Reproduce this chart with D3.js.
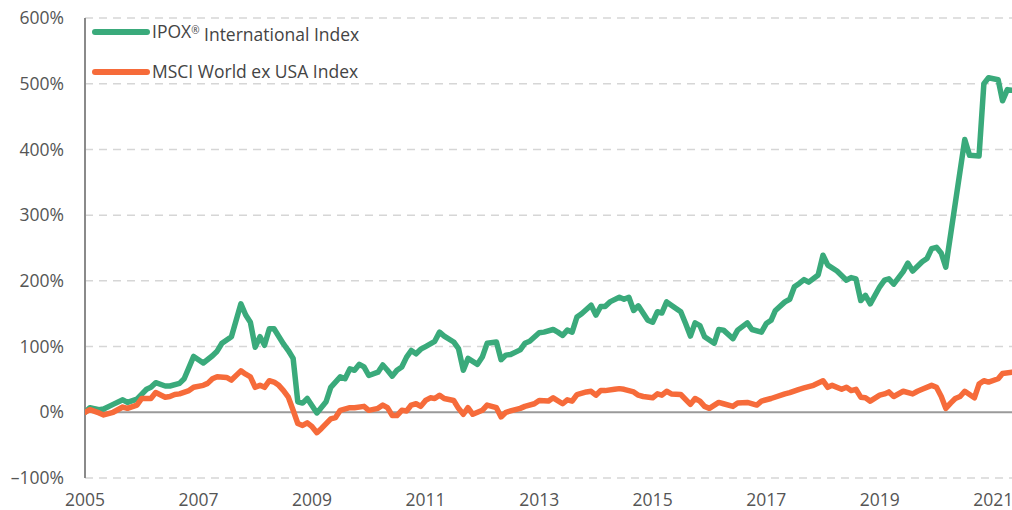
<!DOCTYPE html>
<html>
<head>
<meta charset="utf-8">
<script src="https://cdn.jsdelivr.net/npm/d3@7"></script>
<style>
  html, body { margin: 0; padding: 0; background: #fff; }
  svg { display: block; font-family: "Open Sans", Lato, sans-serif; }
</style>
</head>
<body>
<div id="chart"></div>
<script>
// IPOX International Index, cumulative return (%)
const ipox = [
  ["2005-01",0],["2005-02",7],["2005-04",4],["2005-05",5],["2005-07",12],["2005-09",19],["2005-10",15],["2005-12",20],
  ["2006-02",35],["2006-03",38],["2006-04",45],["2006-06",40],["2006-07",40],["2006-09",44],["2006-10",51],["2006-12",85],
  ["2007-02",75],["2007-04",86],["2007-05",93],["2007-06",105],["2007-08",115],["2007-10",165],["2007-11",148],["2007-12",137],
  ["2008-01",99],["2008-02",115],["2008-03",102],["2008-04",127],["2008-05",127],["2008-07",104],["2008-08",94],["2008-09",82],
  ["2008-10",16],["2008-11",14],["2008-12",21],["2009-02",-1],["2009-04",16],["2009-05",38],["2009-07",54],["2009-08",51],
  ["2009-09",66],["2009-10",64],["2009-11",73],["2009-12",69],["2010-01",56],["2010-03",61],["2010-04",72],["2010-05",64],
  ["2010-06",55],["2010-07",64],["2010-08",69],["2010-09",84],["2010-10",94],["2010-11",89],["2010-12",96],["2011-01",100],
  ["2011-03",108],["2011-04",122],["2011-05",116],["2011-07",107],["2011-08",97],["2011-09",64],["2011-10",82],["2011-12",73],
  ["2012-01",84],["2012-02",105],["2012-04",107],["2012-05",80],["2012-06",87],["2012-07",88],["2012-09",95],["2012-10",105],
  ["2012-11",108],["2013-01",121],["2013-02",122],["2013-04",126],["2013-05",122],["2013-06",117],["2013-07",125],["2013-08",122],
  ["2013-09",145],["2013-10",150],["2013-12",163],["2014-01",148],["2014-02",161],["2014-03",161],["2014-04",168],["2014-06",175],
  ["2014-07",172],["2014-08",175],["2014-09",155],["2014-10",162],["2014-12",140],["2015-01",137],["2015-02",153],["2015-03",151],
  ["2015-04",168],["2015-05",163],["2015-07",153],["2015-08",135],["2015-09",116],["2015-10",136],["2015-11",132],["2015-12",115],
  ["2016-02",105],["2016-03",126],["2016-04",125],["2016-06",112],["2016-07",125],["2016-09",136],["2016-10",126],["2016-12",122],
  ["2017-01",135],["2017-02",140],["2017-03",155],["2017-05",168],["2017-06",172],["2017-07",191],["2017-08",196],["2017-09",202],
  ["2017-10",198],["2017-12",209],["2018-01",239],["2018-02",224],["2018-04",215],["2018-06",201],["2018-07",205],["2018-08",203],
  ["2018-09",170],["2018-10",178],["2018-11",165],["2019-01",191],["2019-02",201],["2019-03",203],["2019-04",195],["2019-06",214],
  ["2019-07",227],["2019-08",215],["2019-10",229],["2019-11",234],["2019-12",249],["2020-01",251],["2020-02",242],["2020-03",221],
  ["2020-07",415],["2020-08",391],["2020-10",390],["2020-11",500],["2020-12",509],["2021-02",506],["2021-03",474],["2021-04",491],
  ["2021-05",490]
]

// MSCI World ex USA Index, cumulative return (%)
const msci = [
  ["2005-01",0],["2005-02",4],["2005-04",-1],["2005-05",-4],["2005-07",0],["2005-09",8],["2005-10",6],["2005-12",11],
  ["2006-01",21],["2006-03",21],["2006-04",30],["2006-06",23],["2006-07",24],["2006-08",27],["2006-09",28],["2006-11",33],
  ["2006-12",38],["2007-02",41],["2007-03",44],["2007-04",51],["2007-05",54],["2007-07",53],["2007-08",49],["2007-10",63],
  ["2007-11",58],["2007-12",54],["2008-01",38],["2008-02",41],["2008-03",38],["2008-04",48],["2008-05",46],["2008-06",41],
  ["2008-07",33],["2008-08",23],["2008-09",3],["2008-10",-17],["2008-11",-20],["2008-12",-16],["2009-01",-22],["2009-02",-31],
  ["2009-03",-25],["2009-05",-10],["2009-06",-8],["2009-07",3],["2009-09",7],["2009-10",7],["2009-12",9],["2010-01",3],
  ["2010-03",6],["2010-04",11],["2010-05",7],["2010-06",-5],["2010-07",-5],["2010-08",3],["2010-09",2],["2010-10",11],
  ["2010-11",13],["2010-12",9],["2011-01",18],["2011-02",22],["2011-03",21],["2011-04",26],["2011-05",21],["2011-07",18],
  ["2011-08",6],["2011-09",-3],["2011-10",7],["2011-11",-3],["2012-01",3],["2012-02",11],["2012-04",7],["2012-05",-7],
  ["2012-06",0],["2012-07",2],["2012-09",6],["2012-10",9],["2012-12",13],["2013-01",18],["2013-03",17],["2013-04",22],
  ["2013-06",13],["2013-07",19],["2013-08",17],["2013-09",27],["2013-11",31],["2013-12",32],["2014-01",26],["2014-02",33],
  ["2014-03",33],["2014-05",35],["2014-06",36],["2014-07",35],["2014-09",31],["2014-10",26],["2014-11",24],["2015-01",22],
  ["2015-02",28],["2015-03",26],["2015-04",32],["2015-05",28],["2015-07",27],["2015-09",12],["2015-10",21],["2015-11",17],
  ["2015-12",9],["2016-01",6],["2016-03",15],["2016-04",13],["2016-06",9],["2016-07",14],["2016-09",15],["2016-11",11],
  ["2016-12",17],["2017-02",21],["2017-05",28],["2017-06",30],["2017-08",35],["2017-09",37],["2017-11",41],["2018-01",48],
  ["2018-02",38],["2018-03",41],["2018-05",35],["2018-06",38],["2018-07",33],["2018-08",35],["2018-09",23],["2018-10",22],
  ["2018-11",17],["2019-01",26],["2019-02",28],["2019-03",31],["2019-04",24],["2019-06",32],["2019-08",28],["2019-09",32],
  ["2019-10",35],["2019-12",41],["2020-01",38],["2020-02",24],["2020-03",6],["2020-04",14],["2020-05",21],["2020-06",24],
  ["2020-07",32],["2020-08",27],["2020-09",22],["2020-10",43],["2020-11",48],["2020-12",46],["2021-02",51],["2021-03",59],
  ["2021-05",61]
]

const seriesNames = [["IPOX", "®", " International Index"], ["MSCI World ex USA Index", "", ""]]
const seriesColors = ["#3aaa7b", "#f66b3a"]
const yTicks = [-100, 0, 100, 200, 300, 400, 500, 600]
const xTickYears = [2005, 2007, 2009, 2011, 2013, 2015, 2017, 2019, 2021]

const width = 1012
const height = 510
const margin = { top: 18, right: 0, bottom: 32, left: 85 }

const parse = d3.timeParse("%Y-%m")

const x = d3.scaleTime()
  .domain([new Date(2005, 0, 1), new Date(2021, 4, 1)])
  .range([margin.left, width - margin.right])
const y = d3.scaleLinear()
  .domain([-100, 600])
  .range([height - margin.bottom, margin.top])

const svg = d3.select("#chart").append("svg")
  .attr("width", width)
  .attr("height", height)
  .attr("viewBox", [0, 0, width, height])

// dashed grid
svg.append("g")
  .selectAll("line")
  .data(yTicks.filter(d => d !== 0))
  .join("line")
  .attr("x1", margin.left)
  .attr("x2", width - margin.right)
  .attr("y1", d => y(d))
  .attr("y2", d => y(d))
  .attr("stroke", "#d6d6d6")
  .attr("stroke-width", 1.5)
  .attr("stroke-dasharray", "8,6")

// y labels
const fmt = d => (d < 0 ? "–" + Math.abs(d) : d) + "%"
svg.append("g")
  .selectAll("text")
  .data(yTicks)
  .join("text")
  .attr("x", 64)
  .attr("y", d => y(d))
  .attr("dy", "0.35em")
  .attr("text-anchor", "end")
  .attr("fill", "#555")
  .style("font-size", "17.5px")
  .text(fmt)

// x labels
svg.append("g")
  .selectAll("text")
  .data(xTickYears)
  .join("text")
  .attr("x", d => x(new Date(d, 0, 1)))
  .attr("y", 506)
  .attr("text-anchor", "middle")
  .attr("fill", "#555")
  .style("font-size", "17.5px")
  .text(d => d)

// zero line + left axis
svg.append("line")
  .attr("x1", margin.left).attr("x2", width - margin.right)
  .attr("y1", y(0)).attr("y2", y(0))
  .attr("stroke", "#9a9a9a").attr("stroke-width", 2)
svg.append("line")
  .attr("x1", margin.left).attr("x2", margin.left)
  .attr("y1", y(600)).attr("y2", y(-100))
  .attr("stroke", "#8a8a8a").attr("stroke-width", 2)

const line = d3.line()
  .x(d => x(parse(d[0])))
  .y(d => y(d[1]))

svg.append("defs").append("clipPath").attr("id", "clip")
  .append("rect")
  .attr("x", margin.left).attr("y", 0)
  .attr("width", width - margin.left - margin.right).attr("height", height)

const lines = svg.append("g").attr("clip-path", "url(#clip)")
;[ipox, msci].forEach((data, i) => {
  lines.append("path")
    .datum(data)
    .attr("fill", "none")
    .attr("stroke", seriesColors[i])
    .attr("stroke-width", 5.5)
    .attr("stroke-linejoin", "round")
    .attr("stroke-linecap", "round")
    .attr("d", line)
})

// legend
const legend = svg.append("g")
  .selectAll("g")
  .data(seriesNames)
  .join("g")
  .attr("transform", (d, i) => `translate(95,${32 + i * 40})`)
legend.append("line")
  .attr("x1", 0).attr("x2", 52)
  .attr("stroke", (d, i) => seriesColors[i])
  .attr("stroke-width", 6)
  .attr("stroke-linecap", "round")
const lt = legend.append("text")
  .attr("x", 57)
  .attr("y", 6)
  .attr("fill", "#444")
  .style("font-size", "17.5px")
lt.append("tspan").text(d => d[0])
lt.append("tspan")
  .attr("dy", "-0.45em")
  .style("font-size", "10px")
  .text(d => d[1])
lt.append("tspan")
  .attr("dy", d => d[1] ? "0.45em" : null)
  .text(d => d[2])
</script>
</body>
</html>
